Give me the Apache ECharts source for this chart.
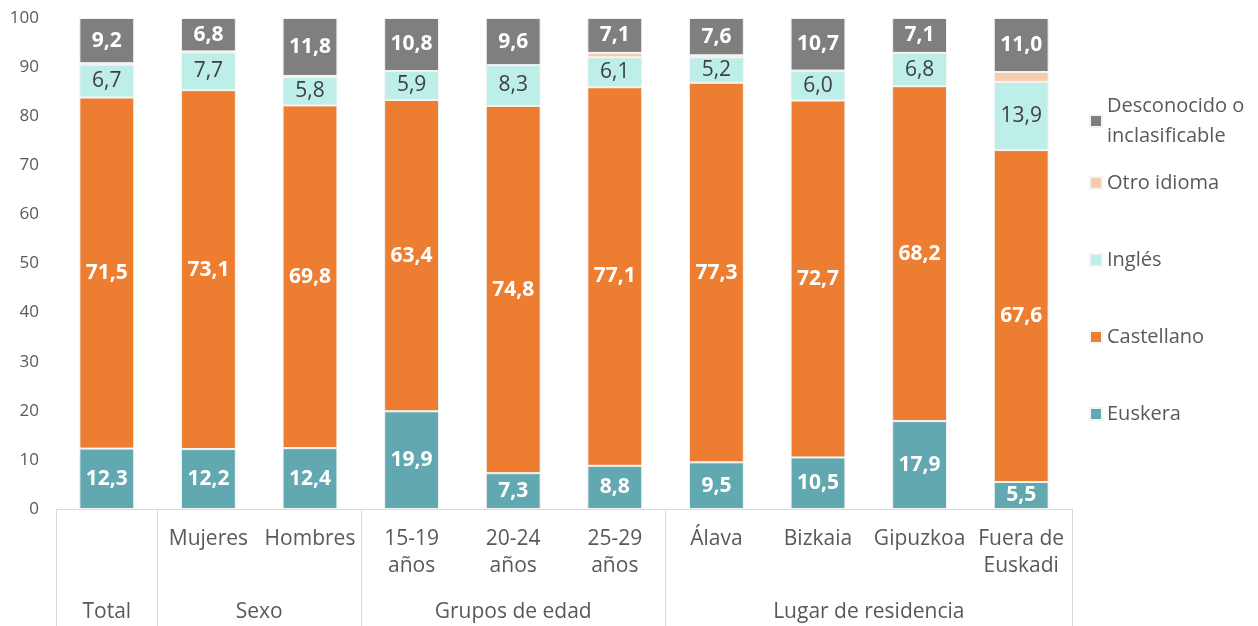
<!DOCTYPE html>
<html>
<head>
<meta charset="utf-8" />
<script src="https://cdn.jsdelivr.net/npm/echarts@6/dist/echarts.min.js"></script>
<style>
  html, body { margin: 0; padding: 0; background: #fff; }
  #chart { width: 1258px; height: 626px; }
</style>
</head>
<body>
<div id="chart"></div>
<script>
const categories = ['Total', 'Mujeres', 'Hombres', '15-19\naños', '20-24\naños', '25-29\naños', 'Álava', 'Bizkaia', 'Gipuzkoa', 'Fuera de\nEuskadi']
const groupNames = ['Total', 'Sexo', 'Grupos de edad', 'Lugar de residencia']
const groupSizes = [1, 2, 3, 4]

const euskera = [12.3, 12.2, 12.4, 19.9, 7.3, 8.8, 9.5, 10.5, 17.9, 5.5]
const castellano = [71.5, 73.1, 69.8, 63.4, 74.8, 77.1, 77.3, 72.7, 68.2, 67.6]
const ingles = [6.7, 7.7, 5.8, 5.9, 8.3, 6.1, 5.2, 6.0, 6.8, 13.9]
const otro = [0.3, 0.2, 0.2, 0, 0, 0.9, 0.4, 0.1, 0, 2.0]
const desconocido = [9.2, 6.8, 11.8, 10.8, 9.6, 7.1, 7.6, 10.7, 7.1, 11.0]

const FONT = '"Open Sans", sans-serif'
const GREY = '#595959'

// group boundaries and centres, in category index units
const bounds = [-0.5]
const centers = []
groupSizes.reduce((start, n) => {
  centers.push(start + (n - 1) / 2)
  bounds.push(start + n - 0.5)
  return start + n
}, 0)

const fmt = p => p.value.toFixed(1).replace('.', ',')

const bigLabel = color => ({
  show: true,
  position: 'inside',
  fontFamily: FONT,
  fontSize: 21,
  fontWeight: 'bold',
  color,
  formatter: fmt,
})

const mkSeries = (name, data, color, label) => ({
  name,
  type: 'bar',
  stack: 'total',
  data,
  barWidth: '54%',
  xAxisIndex: 0,
  itemStyle: { color, borderColor: '#f4f4f4', borderWidth: 1 },
  label: label || { show: false },
  emphasis: { disabled: true },
})

const legendText = { fontFamily: FONT, fontSize: 20, color: GREY }

const chart = echarts.init(document.getElementById('chart'))
chart.setOption({
  animation: false,
  grid: { left: 56, right: 186, top: 18, bottom: 116 },
  legend: [
    {
      data: ['Desconocido o\ninclasificable'],
      orient: 'vertical',
      left: 1084,
      top: 86,
      icon: 'rect',
      itemWidth: 12,
      itemHeight: 12,
      textStyle: { ...legendText, lineHeight: 30 },
    },
    {
      data: ['Otro idioma', 'Inglés', 'Castellano', 'Euskera'],
      orient: 'vertical',
      left: 1084,
      top: 168,
      itemGap: 57,
      icon: 'rect',
      itemWidth: 12,
      itemHeight: 12,
      textStyle: { ...legendText, lineHeight: 20 },
    },
  ],
  xAxis: [
    {
      type: 'category',
      data: categories,
      axisLine: { lineStyle: { color: '#d9d9d9' } },
      axisTick: { show: false },
      axisLabel: {
        interval: 0,
        margin: 17,
        fontFamily: FONT,
        fontSize: 21,
        lineHeight: 27,
        color: GREY,
        // single-member groups are named only on the group row
        formatter: (v, i) => (groupSizes[0] === 1 && i === 0 ? '' : v),
      },
    },
    {
      // group labels + separators
      type: 'value',
      min: -0.5,
      max: 9.5,
      position: 'bottom',
      axisLine: { show: false },
      splitLine: { show: false },
      axisTick: {
        show: true,
        customValues: bounds,
        length: 120,
        lineStyle: { color: '#d9d9d9' },
      },
      axisLabel: {
        customValues: centers,
        margin: 90,
        fontFamily: FONT,
        fontSize: 21,
        lineHeight: 27,
        color: GREY,
        formatter: v => groupNames[centers.indexOf(v)] || '',
      },
    },
  ],
  yAxis: {
    type: 'value',
    min: 0,
    max: 100,
    interval: 10,
    axisLine: { show: false },
    axisTick: { show: false },
    splitLine: { show: false },
    axisLabel: { margin: 17, fontFamily: FONT, fontSize: 17, color: GREY },
  },
  series: [
    mkSeries('Euskera', euskera, '#62a8b1', bigLabel('#fff')),
    mkSeries('Castellano', castellano, '#ed7d31', bigLabel('#fff')),
    mkSeries('Inglés', ingles, '#bdeee8', { ...bigLabel('#404040'), fontWeight: 'normal' }),
    mkSeries('Otro idioma', otro, '#f8cbad'),
    mkSeries('Desconocido o\ninclasificable', desconocido, '#7f7f7f', bigLabel('#fff')),
  ],
})
</script>
</body>
</html>
